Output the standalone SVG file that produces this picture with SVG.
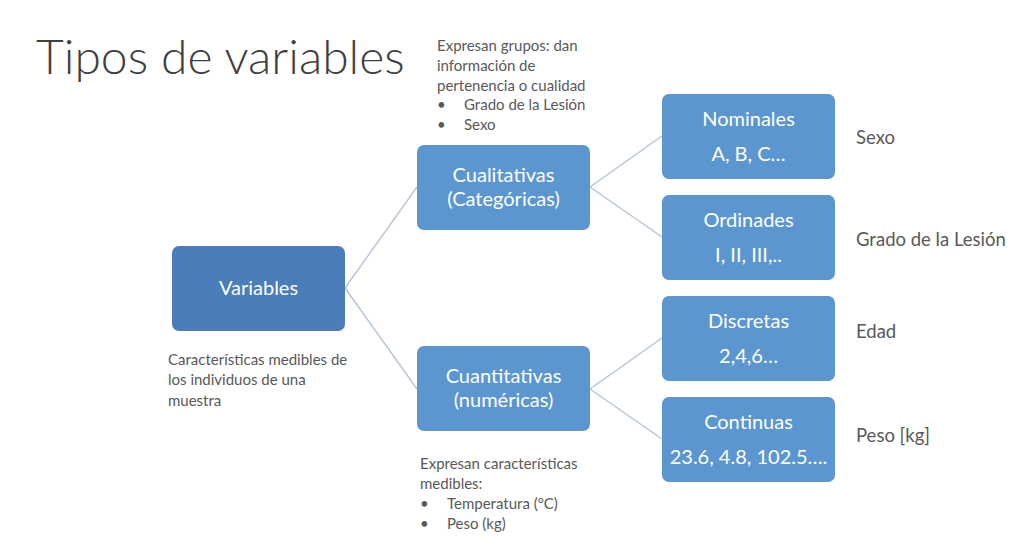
<svg xmlns="http://www.w3.org/2000/svg" width="1024" height="542" viewBox="0 0 1024 542">
  <style>
    .t { font-family: Lato, "Open Sans", "Liberation Sans", sans-serif; }
    .title { font-size: 48px; fill: #3f3f3f; font-weight: 300; }
    .box { fill: #5b96d1; }
    .root { fill: #4a7dba; }
    .bt { font-size: 20px; fill: #ffffff; text-anchor: middle; }
    .note { font-size: 15px; fill: #595959; }
    .side { font-size: 18.5px; fill: #595959; }
    .link { stroke: #b3c3d3; stroke-width: 1.3; fill: none; }
  </style>
  <rect width="1024" height="542" fill="#ffffff"/>

  <text class="t title" x="36" y="74">Tipos de variables</text>

  <g id="connectors">
    <path class="link" d="M345 288 L417 187 M345 288 L417 389"/>
    <path class="link" d="M590 187 L662 136 M590 187 L662 237"/>
    <path class="link" d="M590 389 L662 338 M590 389 L662 439"/>
  </g>

  <g id="variables">
    <rect class="root" x="172" y="246" width="173" height="85" rx="7"/>
    <text class="t bt" x="258.5" y="295">Variables</text>
    <text class="t note" x="168" y="365">Características medibles de</text>
    <text class="t note" x="168" y="385">los individuos de una</text>
    <text class="t note" x="168" y="406">muestra</text>
  </g>

  <g id="cualitativas">
    <rect class="box" x="417" y="145" width="173" height="85" rx="7"/>
    <text class="t bt" x="503.5" y="182">Cualitativas</text>
    <text class="t bt" x="503.5" y="206">(Categóricas)</text>
    <text class="t note" x="437" y="51">Expresan grupos: dan</text>
    <text class="t note" x="437" y="71">información de</text>
    <text class="t note" x="437" y="91">pertenencia o cualidad</text>
    <text class="t note" x="437" y="110">•</text>
    <text class="t note" x="464" y="110">Grado de la Lesión</text>
    <text class="t note" x="437" y="130">•</text>
    <text class="t note" x="464" y="130">Sexo</text>
  </g>

  <g id="cuantitativas">
    <rect class="box" x="417" y="346" width="173" height="85" rx="7"/>
    <text class="t bt" x="503.5" y="383">Cuantitativas</text>
    <text class="t bt" x="503.5" y="407">(numéricas)</text>
    <text class="t note" x="420" y="469">Expresan características</text>
    <text class="t note" x="420" y="489">medibles:</text>
    <text class="t note" x="420" y="509">•</text>
    <text class="t note" x="447" y="509">Temperatura (ºC)</text>
    <text class="t note" x="420" y="529">•</text>
    <text class="t note" x="447" y="529">Peso (kg)</text>
  </g>

  <g id="nominales">
    <rect class="box" x="662" y="94" width="173" height="85" rx="7"/>
    <text class="t bt" x="748.5" y="126">Nominales</text>
    <text class="t bt" x="748.5" y="161">A, B, C…</text>
    <text class="t side" x="856" y="144">Sexo</text>
  </g>

  <g id="ordinades">
    <rect class="box" x="662" y="195" width="173" height="85" rx="7"/>
    <text class="t bt" x="748.5" y="227">Ordinades</text>
    <text class="t bt" x="748.5" y="262">I, II, III,..</text>
    <text class="t side" x="856" y="246">Grado de la Lesión</text>
  </g>

  <g id="discretas">
    <rect class="box" x="662" y="296" width="173" height="85" rx="7"/>
    <text class="t bt" x="748.5" y="328">Discretas</text>
    <text class="t bt" x="748.5" y="363">2,4,6…</text>
    <text class="t side" x="856" y="338">Edad</text>
  </g>

  <g id="continuas">
    <rect class="box" x="662" y="397" width="173" height="85" rx="7"/>
    <text class="t bt" x="748.5" y="429">Continuas</text>
    <text class="t bt" x="748.5" y="464">23.6, 4.8, 102.5….</text>
    <text class="t side" x="856" y="442">Peso [kg]</text>
  </g>
</svg>
